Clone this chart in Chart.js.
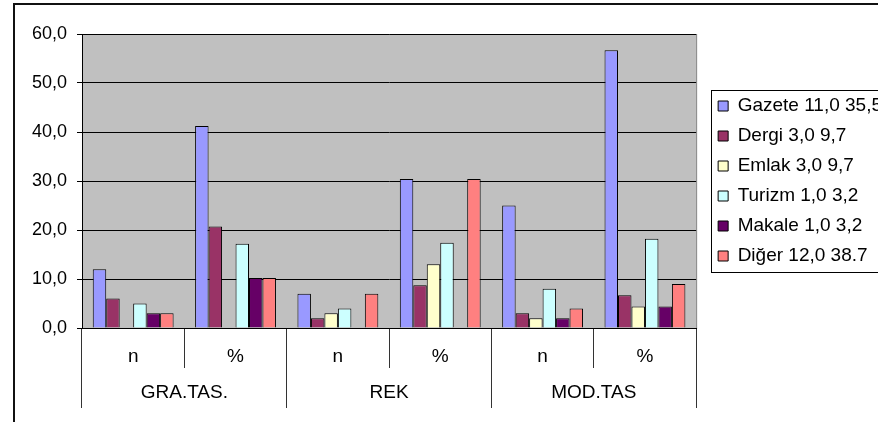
<!DOCTYPE html>
<html>
<head>
<meta charset="utf-8">
<script src="https://cdn.jsdelivr.net/npm/chart.js@4.4.0/dist/chart.umd.min.js"></script>
<style>
  html, body { margin: 0; padding: 0; background: #fff; overflow: hidden; }
  #wrap { position: absolute; left: 0; top: 0; width: 881px; height: 422px; }
</style>
</head>
<body>
<div id="wrap"><canvas id="chart" width="881" height="422"></canvas></div>
<script>
// categories
const subLabels = ['n', '%', 'n', '%', 'n', '%'];
const groupLabels = ['GRA.TAS.', 'REK', 'MOD.TAS'];
const yTicks = [0, 10, 20, 30, 40, 50, 60];

// series (GRA n, GRA %, REK n, REK %, MOD n, MOD %)
const gazete = [12.0, 41.2, 7.0, 30.4, 25.0, 56.7];
const dergi  = [6.0, 20.7, 2.0, 8.7, 3.0, 6.7];
const emlak  = [0, 0, 3.0, 13.0, 2.0, 4.4];
const turizm = [5.0, 17.2, 4.0, 17.4, 8.0, 18.2];
const makale = [3.0, 10.2, 0, 0, 2.0, 4.4];
const diger  = [3.0, 10.2, 7.0, 30.4, 4.0, 9.0];

const seriesNames = ['Gazete 11,0 35,5', 'Dergi 3,0 9,7', 'Emlak 3,0 9,7', 'Turizm 1,0 3,2', 'Makale 1,0 3,2', 'Diğer 12,0 38.7'];
const seriesColors = ['#9999FF', '#993366', '#FFFFCC', '#CCFFFF', '#660066', '#FF8080'];
const seriesData = [gazete, dergi, emlak, turizm, makale, diger];

const FONT = 'Liberation Sans, Arial, sans-serif';

// plot background, outer frame and legend box
const decor = {
    id: 'decor',
    afterLayout(chart) {
        // nudge the legend to where Excel put it
        chart.legend.left += 11;
        chart.legend.right += 11;
        chart.legend.top -= 40;
        chart.legend.bottom -= 40;
    },
    beforeDraw(chart) {
        const ctx = chart.ctx;
        const a = chart.chartArea;
        ctx.save();
        ctx.fillStyle = '#C0C0C0';
        ctx.fillRect(a.left, a.top, a.right - a.left, a.bottom - a.top);
        ctx.strokeStyle = '#808080';
        ctx.lineWidth = 1;
        ctx.strokeRect(a.left + 0.5, a.top + 0.5, a.right - a.left, a.bottom - a.top);
        // outer frame
        ctx.strokeStyle = '#111';
        ctx.lineWidth = 2;
        ctx.beginPath();
        ctx.moveTo(14, 430);
        ctx.lineTo(14, 4);
        ctx.lineTo(890, 4);
        ctx.stroke();
        ctx.restore();
    },
    afterDraw(chart) {
        const boxes = chart.legend.legendHitBoxes;
        if (!boxes || !boxes.length) return;
        const ctx = chart.ctx;
        const first = boxes[0], last = boxes[boxes.length - 1];
        ctx.save();
        ctx.strokeStyle = '#000';
        ctx.lineWidth = 1;
        ctx.strokeRect(Math.round(first.left) - 6.5, Math.round(first.top) - 6.5, 200,
            Math.round(last.top + last.height - first.top) + 13);
        ctx.restore();
    }
};

new Chart(document.getElementById('chart'), {
    type: 'bar',
    data: {
        labels: subLabels,
        datasets: seriesData.map((d, i) => ({
            label: seriesNames[i],
            data: d,
            backgroundColor: seriesColors[i],
            borderColor: '#000',
            borderWidth: 1,
            barPercentage: 1,
            categoryPercentage: 0.79
        }))
    },
    options: {
        responsive: false,
        animation: false,
        layout: { padding: { left: 0, top: 34, bottom: 14, right: 0 } },
        plugins: {
            tooltip: { enabled: false },
            legend: {
                position: 'right',
                labels: {
                    boxWidth: 10,
                    boxHeight: 10,
                    padding: 11,
                    color: '#000',
                    font: { family: FONT, size: 19 }
                }
            }
        },
        scales: {
            x: {
                position: 'bottom',
                weight: 0,
                offset: true,
                grid: { offset: true, drawOnChartArea: false, tickLength: 40, color: '#333' },
                border: { display: true, color: '#000' },
                ticks: { color: '#000', padding: -23, font: { family: FONT, size: 19 } },
                afterFit(scale) { scale.height = 40; }
            },
            x2: {
                type: 'category',
                labels: groupLabels,
                position: 'bottom',
                weight: 1,
                offset: true,
                grid: { offset: true, drawOnChartArea: false, tickLength: 40, color: '#333' },
                border: { display: false },
                ticks: { color: '#000', padding: -27, font: { family: FONT, size: 19 } },
                afterFit(scale) { scale.height = 40; }
            },
            y: {
                min: 0,
                max: 60,
                afterBuildTicks(scale) { scale.ticks = yTicks.map(v => ({ value: v })); },
                grid: { color: '#000', tickLength: 5 },
                border: { color: '#000' },
                ticks: {
                    color: '#000',
                    padding: 10,
                    font: { family: FONT, size: 18 },
                    callback: v => v.toFixed(1).replace('.', ',')
                },
                afterFit(scale) { scale.width = 82; }
            }
        }
    },
    plugins: [decor]
});
</script>
</body>
</html>
